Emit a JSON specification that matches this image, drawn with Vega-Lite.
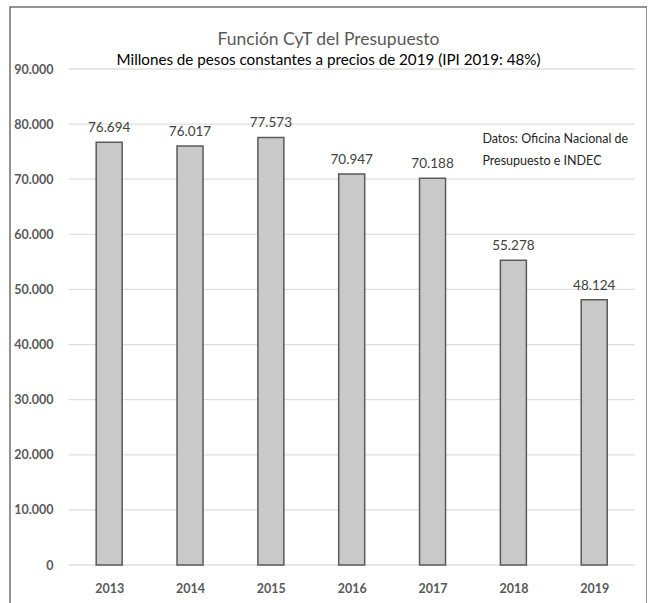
{
  "$schema": "https://vega.github.io/schema/vega-lite/v6.json",
  "autosize": "none",
  "padding": {"left": 10, "top": 7, "right": 0, "bottom": 0},
  "width": 637,
  "height": 598,
  "config": {
    "locale": {"number": {"decimal": ",", "thousands": ".", "grouping": [3], "currency": ["$", ""]}},
    "view": {"stroke": "#707070", "strokeWidth": 1.5},
    "font": "Lato"
  },
  "title": {
    "text": "Función CyT del Presupuesto",
    "subtitle": "Millones de pesos constantes a precios de 2019 (IPI 2019: 48%)",
    "anchor": "middle",
    "frame": "group",
    "offset": -61,
    "font": "Lato",
    "fontSize": 17.5,
    "fontWeight": "normal",
    "color": "#595959",
    "subtitleFont": "Lato",
    "subtitleFontSize": 15.2,
    "subtitleColor": "#000000",
    "subtitlePadding": 4
  },
  "datasets": {
    "budget": [
      {"year": 2013, "value": 76694},
      {"year": 2014, "value": 76017},
      {"year": 2015, "value": 77573},
      {"year": 2016, "value": 70947},
      {"year": 2017, "value": 70188},
      {"year": 2018, "value": 55278},
      {"year": 2019, "value": 48124}
    ],
    "grid": [
      {"tick": 0}, {"tick": 10000}, {"tick": 20000}, {"tick": 30000}, {"tick": 40000},
      {"tick": 50000}, {"tick": 60000}, {"tick": 70000}, {"tick": 80000}, {"tick": 90000}
    ],
    "note": [
      {"year": 2018, "value": 77300, "line": "Datos: Oficina Nacional de"},
      {"year": 2018, "value": 73300, "line": "Presupuesto e INDEC"}
    ]
  },
  "layer": [
    {
      "data": {"name": "grid"},
      "mark": {"type": "rule", "stroke": "#dedede", "strokeWidth": 1.3},
      "encoding": {
        "y": {"field": "tick", "type": "quantitative"},
        "x": {"datum": 2012.5},
        "x2": {"datum": 2019.5}
      }
    },
    {
      "data": {"name": "budget"},
      "mark": {"type": "bar", "width": 26, "fill": "#c9c9c9", "stroke": "#5a5a5a", "strokeWidth": 1.5},
      "encoding": {
        "y": {
          "field": "value",
          "type": "quantitative",
          "scale": {"domain": [-7258, 101250], "nice": false, "zero": false},
          "axis": {
            "title": null,
            "values": [0, 10000, 20000, 30000, 40000, 50000, 60000, 70000, 80000, 90000],
            "format": ",d",
            "grid": false,
            "domain": false,
            "ticks": false,
            "tickSize": 0,
            "labelPadding": 0,
            "offset": -43,
            "labelFont": "Lato",
            "labelFontSize": 12.5,
            "labelFontWeight": "bold",
            "labelColor": "#595959",
            "labelFlush": false,
            "labelOverlap": false
          }
        },
        "y2": {"datum": 0},
        "x": {
          "field": "year",
          "type": "quantitative",
          "scale": {"domain": [2011.835, 2019.591], "nice": false, "zero": false},
          "axis": {
            "title": null,
            "values": [2013, 2014, 2015, 2016, 2017, 2018, 2019],
            "format": "d",
            "grid": false,
            "domain": false,
            "ticks": false,
            "tickSize": 0,
            "labelPadding": 0,
            "labelBaseline": "middle",
            "offset": -17,
            "labelFont": "Lato",
            "labelFontSize": 12.5,
            "labelFontWeight": "bold",
            "labelColor": "#595959",
            "labelFlush": false,
            "labelOverlap": false
          }
        }
      }
    },
    {
      "data": {"name": "budget"},
      "mark": {"type": "text", "baseline": "bottom", "dy": -7, "fontSize": 13.5, "color": "#404040", "font": "Lato"},
      "encoding": {
        "x": {"field": "year", "type": "quantitative"},
        "y": {"field": "value", "type": "quantitative"},
        "text": {"field": "value", "type": "quantitative", "format": ",d"}
      }
    },
    {
      "data": {"name": "note"},
      "mark": {"type": "text", "align": "left", "baseline": "middle", "dx": -31, "fontSize": 12.5, "color": "#262626", "font": "Lato"},
      "encoding": {
        "x": {"field": "year", "type": "quantitative"},
        "y": {"field": "value", "type": "quantitative"},
        "text": {"field": "line", "type": "nominal"}
      }
    }
  ]
}
